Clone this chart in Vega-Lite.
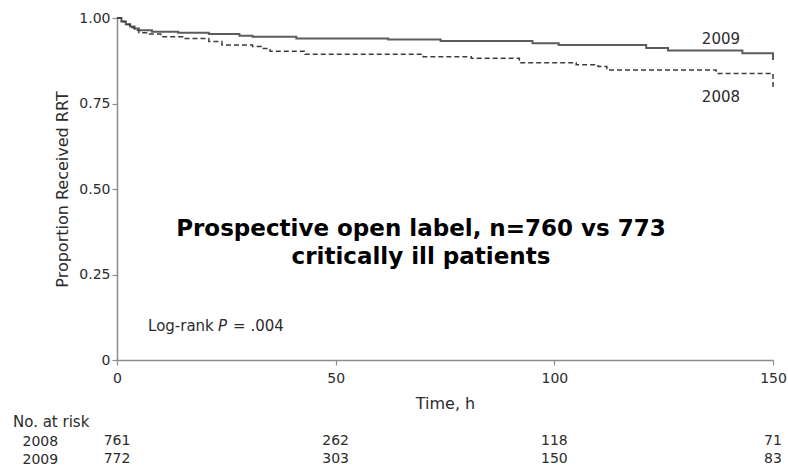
{
  "$schema": "https://vega.github.io/schema/vega-lite/v6.json",
  "padding": {"left": 13, "top": 11, "right": 6, "bottom": 0},
  "background": "white",
  "spacing": 4,
  "config": {
    "font": "DejaVu Sans",
    "view": {"stroke": null},
    "axis": {
      "grid": false,
      "labelFlush": false,
      "domainColor": "#8c8c8c",
      "domainWidth": 1.5,
      "tickColor": "#8c8c8c",
      "tickWidth": 1.2,
      "tickSize": 5,
      "labelFontSize": 14,
      "labelColor": "#2b2b2b",
      "titleFontSize": 16,
      "titleFontWeight": "normal",
      "titleColor": "#2b2b2b"
    },
    "text": {"color": "#2b2b2b"}
  },
  "datasets": {
    "km": [
      {"group": "2009", "time": 0, "prop": 1.0},
      {"group": "2009", "time": 1, "prop": 0.99},
      {"group": "2009", "time": 2, "prop": 0.982},
      {"group": "2009", "time": 3, "prop": 0.975},
      {"group": "2009", "time": 4, "prop": 0.969},
      {"group": "2009", "time": 5, "prop": 0.964},
      {"group": "2009", "time": 8, "prop": 0.96},
      {"group": "2009", "time": 14, "prop": 0.957},
      {"group": "2009", "time": 21, "prop": 0.953},
      {"group": "2009", "time": 28, "prop": 0.948},
      {"group": "2009", "time": 31, "prop": 0.945},
      {"group": "2009", "time": 41, "prop": 0.94},
      {"group": "2009", "time": 62, "prop": 0.937},
      {"group": "2009", "time": 74, "prop": 0.933},
      {"group": "2009", "time": 95, "prop": 0.926},
      {"group": "2009", "time": 101, "prop": 0.921},
      {"group": "2009", "time": 121, "prop": 0.912},
      {"group": "2009", "time": 126, "prop": 0.905},
      {"group": "2009", "time": 143, "prop": 0.897},
      {"group": "2009", "time": 150, "prop": 0.897},
      {"group": "2009", "time": 150, "prop": 0.877},
      {"group": "2008", "time": 0, "prop": 1.0},
      {"group": "2008", "time": 1, "prop": 0.99},
      {"group": "2008", "time": 2, "prop": 0.981},
      {"group": "2008", "time": 3, "prop": 0.972},
      {"group": "2008", "time": 4, "prop": 0.964},
      {"group": "2008", "time": 5, "prop": 0.957},
      {"group": "2008", "time": 7, "prop": 0.953},
      {"group": "2008", "time": 10, "prop": 0.945},
      {"group": "2008", "time": 15, "prop": 0.94},
      {"group": "2008", "time": 21, "prop": 0.931},
      {"group": "2008", "time": 24, "prop": 0.921},
      {"group": "2008", "time": 31, "prop": 0.917},
      {"group": "2008", "time": 33, "prop": 0.911},
      {"group": "2008", "time": 35, "prop": 0.903},
      {"group": "2008", "time": 43, "prop": 0.894},
      {"group": "2008", "time": 70, "prop": 0.887},
      {"group": "2008", "time": 81, "prop": 0.882},
      {"group": "2008", "time": 92, "prop": 0.869},
      {"group": "2008", "time": 105, "prop": 0.863},
      {"group": "2008", "time": 110, "prop": 0.858},
      {"group": "2008", "time": 112, "prop": 0.848},
      {"group": "2008", "time": 137, "prop": 0.838},
      {"group": "2008", "time": 150, "prop": 0.838},
      {"group": "2008", "time": 150, "prop": 0.795}
    ],
    "risk": [
      {"group": "2008", "time": 0, "n": 761},
      {"group": "2008", "time": 50, "n": 262},
      {"group": "2008", "time": 100, "n": 118},
      {"group": "2008", "time": 150, "n": 71},
      {"group": "2009", "time": 0, "n": 772},
      {"group": "2009", "time": 50, "n": 303},
      {"group": "2009", "time": 100, "n": 150},
      {"group": "2009", "time": 150, "n": 83}
    ],
    "one": [{}]
  },
  "vconcat": [
    {
      "width": 656,
      "height": 342,
      "layer": [
        {
          "data": {"name": "km"},
          "transform": [{"filter": "datum.group == '2009'"}],
          "mark": {"type": "line", "interpolate": "step-after", "color": "#5c5c5c", "strokeWidth": 2},
          "encoding": {
            "x": {
              "field": "time", "type": "quantitative",
              "scale": {"domain": [0, 150], "nice": false},
              "axis": {"values": [0, 50, 100, 150], "title": "Time, h", "labelPadding": 6, "titlePadding": 10}
            },
            "y": {
              "field": "prop", "type": "quantitative",
              "scale": {"domain": [0, 1], "nice": false},
              "axis": {
                "values": [0, 0.25, 0.5, 0.75, 1],
                "labelExpr": "datum.value == 0 ? '0' : format(datum.value, '.2f')",
                "labelPadding": 2,
                "title": "Proportion Received RRT",
                "titlePadding": 8
              }
            }
          }
        },
        {
          "data": {"name": "km"},
          "transform": [{"filter": "datum.group == '2008'"}],
          "mark": {"type": "line", "interpolate": "step-after", "color": "#3c3c3c", "strokeWidth": 1.5, "strokeDash": [5, 3]},
          "encoding": {
            "x": {"field": "time", "type": "quantitative"},
            "y": {"field": "prop", "type": "quantitative"}
          }
        },
        {
          "data": {"name": "one"},
          "mark": {"type": "text", "fontSize": 15, "align": "center", "baseline": "middle"},
          "encoding": {
            "x": {"datum": 138.1, "type": "quantitative"},
            "y": {"datum": 0.94, "type": "quantitative"},
            "text": {"value": "2009"}
          }
        },
        {
          "data": {"name": "one"},
          "mark": {"type": "text", "fontSize": 15, "align": "center", "baseline": "middle"},
          "encoding": {
            "x": {"datum": 138.1, "type": "quantitative"},
            "y": {"datum": 0.77, "type": "quantitative"},
            "text": {"value": "2008"}
          }
        },
        {
          "data": {"name": "one"},
          "mark": {"type": "text", "fontSize": 15, "align": "left", "baseline": "middle"},
          "encoding": {
            "x": {"datum": 7.1, "type": "quantitative"},
            "y": {"datum": 0.1, "type": "quantitative"},
            "text": {"value": "Log-rank"}
          }
        },
        {
          "data": {"name": "one"},
          "mark": {"type": "text", "fontSize": 15, "fontStyle": "italic", "align": "left", "baseline": "middle", "dx": 70},
          "encoding": {
            "x": {"datum": 7.1, "type": "quantitative"},
            "y": {"datum": 0.1, "type": "quantitative"},
            "text": {"value": "P"}
          }
        },
        {
          "data": {"name": "one"},
          "mark": {"type": "text", "fontSize": 15, "align": "left", "baseline": "middle", "dx": 85},
          "encoding": {
            "x": {"datum": 7.1, "type": "quantitative"},
            "y": {"datum": 0.1, "type": "quantitative"},
            "text": {"value": "= .004"}
          }
        },
        {
          "data": {"name": "one"},
          "mark": {"type": "text", "fontSize": 23, "fontWeight": "bold", "color": "#000000", "align": "center", "baseline": "middle", "lineHeight": 28},
          "encoding": {
            "x": {"datum": 69.5, "type": "quantitative"},
            "y": {"datum": 0.382, "type": "quantitative"},
            "text": {"value": ["Prospective open label, n=760 vs 773", "critically ill patients"]}
          }
        }
      ]
    },
    {
      "width": 656,
      "height": 36,
      "title": {
        "text": "No. at risk",
        "anchor": "start",
        "frame": "bounds",
        "fontSize": 15,
        "fontWeight": "normal",
        "color": "#2b2b2b",
        "dx": -9,
        "offset": 2
      },
      "data": {"name": "risk"},
      "mark": {"type": "text", "fontSize": 14, "align": "center", "baseline": "middle"},
      "encoding": {
        "x": {
          "field": "time", "type": "quantitative",
          "scale": {"domain": [0, 150], "nice": false},
          "axis": null
        },
        "y": {
          "field": "group", "type": "nominal",
          "scale": {"domain": ["2008", "2009"]},
          "axis": {
            "domain": false,
            "ticks": false,
            "tickSize": 0,
            "labelAlign": "left",
            "labelPadding": 95,
            "title": null
          }
        },
        "text": {"field": "n", "type": "quantitative"}
      }
    }
  ]
}
